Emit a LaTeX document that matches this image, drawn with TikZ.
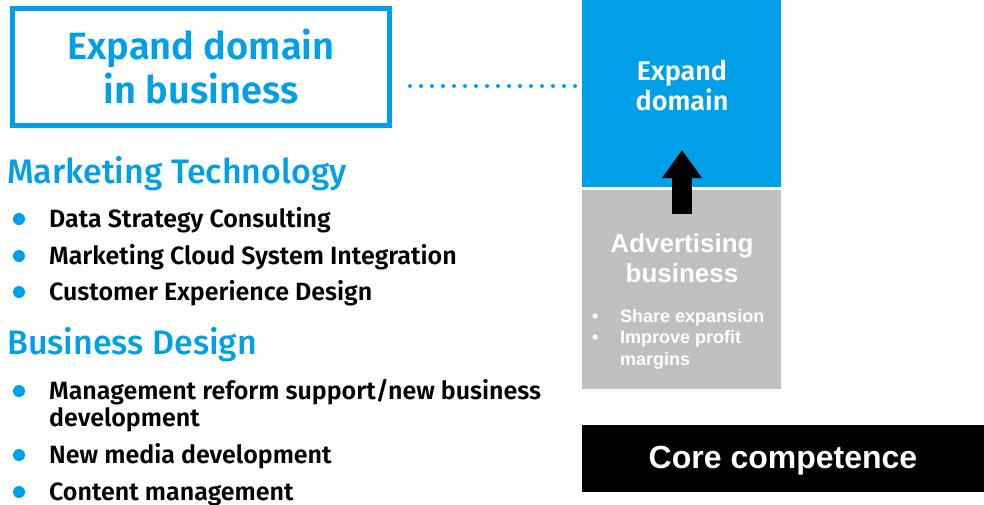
\documentclass[tikz,border=0pt]{standalone}
\usepackage{fontspec}
\setmainfont{Fira Sans}[BoldFont={Fira Sans SemiBold}]
\newfontfamily\headfont{Fira Sans Medium}
\newfontfamily\boxfont{Liberation Sans}
\usetikzlibrary{arrows.meta}

\definecolor{brandblue}{HTML}{00A0E9}
\definecolor{boxgray}{HTML}{BFBFBF}

\newcommand{\bul}{\makebox[28pt][l]{\textbullet}}

\begin{document}
\begin{tikzpicture}[x=1pt,y=-1pt,
    heading/.style={anchor=base west, inner sep=0pt, text=brandblue,
      font=\headfont\fontsize{34}{36}\selectfont},
    item/.style={anchor=base west, inner sep=0pt, align=left,
      font=\bfseries\fontsize{25}{27}\selectfont},
    dot/.style={circle, fill=brandblue, inner sep=0pt, minimum size=12pt},
    block/.style={inner sep=0pt, outer sep=0pt}
  ]
  \useasboundingbox (0,0) rectangle (984,504);

  % title frame top left
  \node[
    block,
    draw=brandblue,
    line width=5pt,
    minimum width=377pt,
    minimum height=117pt
  ] (title) at (201,67) {};
  \node[
    text=brandblue,
    align=center,
    font=\bfseries\fontsize{38}{44}\selectfont
  ] (titletext) at (201,67) {Expand domain\\in business};

  % blue and gray blocks on the right
  \node[block, fill=brandblue, minimum width=199pt, minimum height=187pt]
    (expand) at (681.5,93.5) {};
  \node[text=white, align=center, font=\bfseries\fontsize{27}{30}\selectfont]
    (expandtext) at (682,85) {Expand\\domain};

  \node[block, fill=boxgray, minimum width=199pt, minimum height=199pt]
    (adv) at (681.5,289.5) {};
  \node[text=white, align=center, font=\boxfont\bfseries\fontsize{26}{30}\selectfont]
    (advtext) at (682,258) {Advertising\\business};
  \node[anchor=north west, inner sep=0pt, text=white, align=left,
    font=\boxfont\bfseries\fontsize{18}{21.5}\selectfont]
    (advlist) at (592,309)
    {\bul Share expansion\\\bul Improve profit\\\hspace*{28pt}margins};

  % core competence bar
  \node[block, fill=black, minimum width=402pt, minimum height=67pt,
    text height=23pt, text depth=4pt,
    text=white, font=\boxfont\bfseries\fontsize{32}{36}\selectfont]
    (core) at (783,458.5) {Core competence};

  % dotted link and block arrow
  \coordinate (linkstart) at (410,86);
  \coordinate (linkend) at (576,86);
  \draw[brandblue, line width=4pt, line cap=round, dash pattern=on 0pt off 11pt]
    (linkstart) -- (linkend);

  \coordinate (arrowtail) at (682,214);
  \coordinate (arrowtip) at (682,150);
  \draw[line width=20pt, -{Triangle[width=38pt,length=28pt]}]
    (arrowtail) -- (arrowtip);

  % Marketing Technology
  \node[heading] (mktech) at (7,183) {Marketing Technology};
  \foreach \name/\y/\txt in {
      mt1/227/Data Strategy Consulting,
      mt2/264/Marketing Cloud System Integration,
      mt3/300/Customer Experience Design} {
    \node[dot] (\name dot) at (19,\y-8) {};
    \node[item] (\name) at (49,\y) {\txt};
  }

  % Business Design
  \node[heading] (bizdesign) at (7,354) {Business Design};
  \node[dot] (bd1dot) at (19,391) {};
  \node[item] (bd1) at (49,426) {Management reform support/new business\\development};
  \foreach \name/\y/\txt in {
      bd2/463/New media development,
      bd3/500/Content management} {
    \node[dot] (\name dot) at (19,\y-8) {};
    \node[item] (\name) at (49,\y) {\txt};
  }
\end{tikzpicture}
\end{document}
